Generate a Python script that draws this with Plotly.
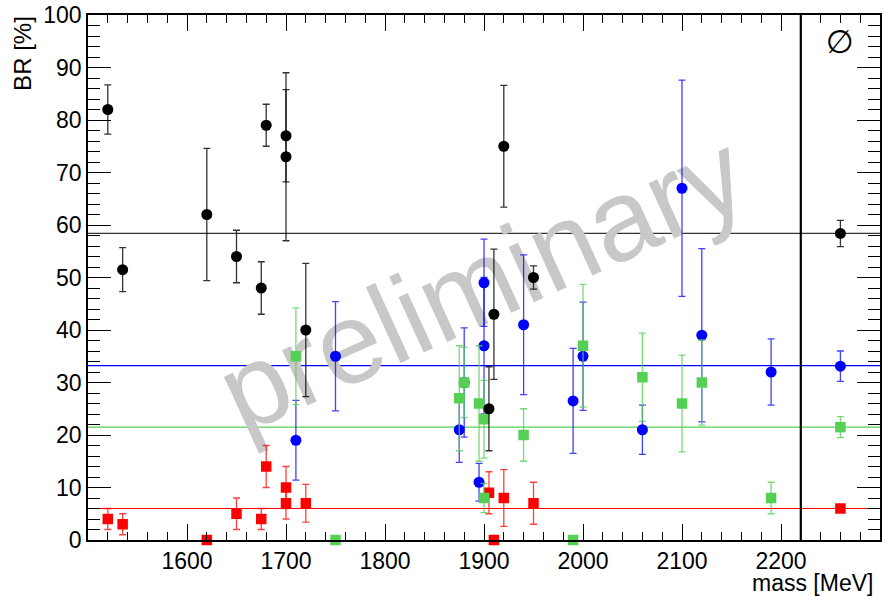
import plotly.graph_objects as go

# ---- data ----
black_x = [1520, 1535, 1620, 1650, 1675, 1680, 1700, 1700, 1720, 1905, 1910, 1920, 1950, 2260]
black_y = [82, 51.5, 62, 54, 48, 79, 77, 73, 40, 25, 43, 75, 50, 58.4]
black_e = [4.7, 4.2, 12.6, 5, 5, 4, 8.8, 16, 12.7, 8, 12.4, 11.6, 2.2, 2.5]

blue_x = [1710, 1750, 1875, 1880, 1895, 1900, 1900, 1940, 1990, 2000, 2060, 2100, 2120, 2190, 2260]
blue_y = [19, 35, 21, 30, 11, 49, 37, 41, 26.5, 35, 21, 67, 39, 32, 33.1]
blue_e = [7.6, 10.4, 6.2, 10.4, 3.6, 8.3, 13, 13.3, 10, 10.3, 4.7, 20.6, 16.5, 6.3, 2.9]

green_x = [1710, 1750, 1875, 1880, 1895, 1900, 1900, 1940, 1990, 2000, 2060, 2100, 2120, 2190, 2260]
green_y = [35, 0, 27, 30, 26, 23, 8, 20, 0, 37, 31, 26, 30, 8, 21.5]
green_e = [9.2, 0, 10, 6.7, 11, 7.4, 2.8, 5, 0, 11.7, 8.4, 9.2, 8.1, 3, 2]

red_x = [1520, 1535, 1620, 1650, 1675, 1680, 1700, 1700, 1720, 1905, 1910, 1920, 1950, 2260]
red_y = [4, 3, 0, 5, 4, 14, 10, 7, 7, 9, 0, 8, 7, 6]
red_e = [2, 2, 0, 3, 2, 4, 4, 3, 3.6, 4, 0, 5.4, 4, 0.3]

averages = {"black": 58.4, "blue": 33.2, "green": 21.5, "red": 6.0}
separator_x = 2220
x_range = [1500, 2300]
y_range = [0, 100]
x_tickvals = [1600, 1700, 1800, 1900, 2000, 2100, 2200]

FONT = "Liberation Sans, Arial, Helvetica, sans-serif"

fig = go.Figure()

def add_series(xs, ys, es, mcolor, ecolor, symbol, size):
    fig.add_trace(go.Scatter(
        x=xs, y=ys, mode="markers",
        marker=dict(symbol=symbol, size=size, color=mcolor, line=dict(width=0)),
        error_y=dict(type="data", array=es, visible=True, color=ecolor,
                     thickness=1.3, width=3.5),
        cliponaxis=False, showlegend=False))

add_series(red_x, red_y, red_e, "#ff0000", "rgba(255,0,0,0.75)", "square", 10.5)
add_series(blue_x, blue_y, blue_e, "#0000ff", "rgba(0,0,255,0.75)", "circle", 11)
add_series(green_x, green_y, green_e, "#55d055", "rgba(85,208,85,0.8)", "square", 10.5)
add_series(black_x, black_y, black_e, "#000000", "rgba(0,0,0,0.8)", "circle", 11)

line_colors = {"black": "#333333", "blue": "#0000ff", "green": "#55d055", "red": "#ff0000"}
shapes = []
for k, v in averages.items():
    shapes.append(dict(type="line", xref="paper", yref="y", x0=0, x1=1, y0=v, y1=v,
                       line=dict(color=line_colors[k], width=1.2), layer="below"))
shapes.append(dict(type="line", xref="x", yref="paper", x0=separator_x, x1=separator_x,
                   y0=0, y1=1, line=dict(color="black", width=2.2)))
# watermark below data
shapes.append(dict(type="rect", xref="paper", yref="paper", x0=0.291, x1=0.691, y0=0.35, y1=0.67,
                   line=dict(width=0), fillcolor="rgba(0,0,0,0)", layer="below",
                   label=dict(text="preliminary", textangle=-24.5, textposition="middle center",
                              font=dict(family=FONT, size=115, color="#c8c8c8"))))

fig.update_layout(
    width=884, height=596,
    margin=dict(l=88, r=2, t=15, b=56),
    paper_bgcolor="white", plot_bgcolor="white",
    shapes=shapes,
    font=dict(family=FONT, color="black"),
)
fig.update_xaxes(
    range=x_range, tickmode="array", tickvals=x_tickvals,
    ticks="inside", ticklen=16, tickwidth=1.2, tickcolor="black",
    minor=dict(ticks="inside", ticklen=8, tickwidth=1.2, tickcolor="black", dtick=20, tick0=1500),
    showline=True, linecolor="black", linewidth=1.6, mirror="allticks",
    showgrid=False, zeroline=False, tickfont=dict(size=23, family=FONT),
)
fig.update_yaxes(
    range=y_range, dtick=10, tick0=0,
    ticks="inside", ticklen=23, tickwidth=1.2, tickcolor="black",
    minor=dict(ticks="inside", ticklen=12, tickwidth=1.2, tickcolor="black", dtick=2),
    showline=True, linecolor="black", linewidth=1.6, mirror="allticks",
    showgrid=False, zeroline=False, tickfont=dict(size=23, family=FONT),
)

fig.add_annotation(text="BR [%]", xref="paper", yref="paper", x=-0.0835, y=0.9276,
                   xanchor="center", yanchor="middle", textangle=-90, showarrow=False,
                   font=dict(size=24, family=FONT, color="black"))
fig.add_annotation(text="mass [MeV]", xref="paper", yref="paper", x=0.9144, y=-0.0825,
                   xanchor="center", yanchor="middle", showarrow=False,
                   font=dict(size=23, family=FONT, color="black"))
fig.add_annotation(text="∅", xref="paper", yref="paper", x=0.9496, y=0.9486,
                   xanchor="center", yanchor="middle", showarrow=False,
                   font=dict(size=32, family="DejaVu Sans", color="black"))

fig.write_html("out.html")
